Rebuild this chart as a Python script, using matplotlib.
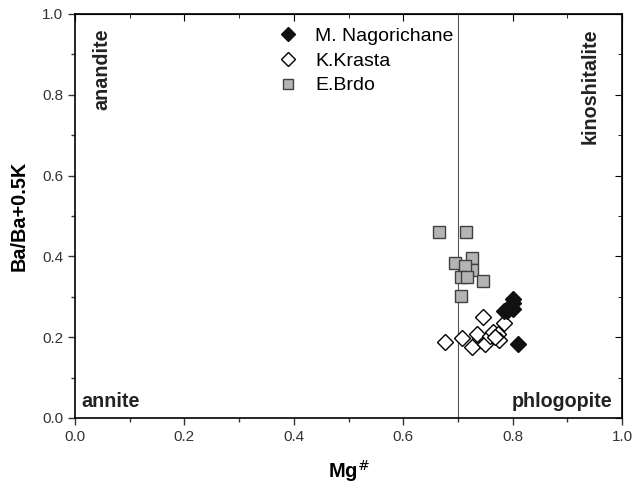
import numpy as np
import matplotlib.pyplot as plt

plt.rcParams['font.family'] = ['Liberation Sans', 'DejaVu Sans']

# M. Nagorichane
mn_x = [0.80, 0.80, 0.795, 0.79, 0.80, 0.785, 0.81]
mn_y = [0.295, 0.285, 0.275, 0.265, 0.27, 0.265, 0.182]

# K.Krasta
kk_x = [0.676, 0.707, 0.734, 0.725, 0.746, 0.749, 0.758, 0.764, 0.773, 0.776, 0.768, 0.785]
kk_y = [0.187, 0.197, 0.208, 0.175, 0.25, 0.183, 0.204, 0.212, 0.208, 0.192, 0.20, 0.235]

# E.Brdo
eb_x = [0.666, 0.715, 0.695, 0.726, 0.726, 0.713, 0.705, 0.717, 0.745, 0.705, 0.736]
eb_y = [0.46, 0.46, 0.384, 0.395, 0.367, 0.376, 0.349, 0.349, 0.339, 0.303, 0.189]

fig = plt.figure(figsize=(6.34, 4.84), dpi=100)
ax = fig.add_axes([0.1183, 0.1364, 0.8628, 0.8347])

ax.axvline(0.7, color='#555555', lw=0.8, zorder=1)

ax.plot(eb_x, eb_y, 's', ms=8, mfc='#b4b4b4', mec='#404040', mew=1.0, ls='none', label='E.Brdo', zorder=2)
ax.plot(kk_x, kk_y, 'D', ms=8, mfc='white', mec='black', mew=1.0, ls='none', label='K.Krasta', zorder=3)
ax.plot(mn_x, mn_y, 'D', ms=8, mfc='#111111', mec='#111111', mew=1.0, ls='none', label='M. Nagorichane', zorder=4)

h, l = ax.get_legend_handles_labels()
leg = ax.legend(h[::-1], l[::-1], loc='upper left', bbox_to_anchor=(0.337, 1.0), frameon=False,
                fontsize=14, handletextpad=0.67, labelspacing=0.36, handlelength=1.5,
                borderaxespad=0.3, markerscale=0.85)

ax.set_xlim(0, 1)
ax.set_ylim(0, 1)
ax.set_xticks(np.arange(0, 1.01, 0.2))
ax.set_yticks(np.arange(0, 1.01, 0.2))
ax.set_xticks(np.arange(0.1, 1.0, 0.2), minor=True)
ax.set_yticks(np.arange(0.1, 1.0, 0.2), minor=True)
ax.tick_params(which='both', direction='out', labelsize=11, colors='#333333', width=1)
ax.tick_params(which='major', length=5)
ax.tick_params(which='minor', length=3)
for s in ax.spines.values():
    s.set_linewidth(1.2)

sec = ax.secondary_xaxis('top')
sec.set_xticks(np.arange(0, 1.01, 0.2))
sec.set_xticks(np.arange(0.1, 1.0, 0.2), minor=True)
sec.tick_params(which='both', direction='in', labeltop=False)
sec.tick_params(which='major', length=5)
sec.tick_params(which='minor', length=3)
sec.set_xticklabels([])
secy = ax.secondary_yaxis('right')
secy.set_yticks(np.arange(0, 1.01, 0.2))
secy.set_yticks(np.arange(0.1, 1.0, 0.2), minor=True)
secy.tick_params(which='both', direction='in')
secy.tick_params(which='major', length=5)
secy.tick_params(which='minor', length=3)
secy.set_yticklabels([])

ax.set_xlabel('Mg$^{\\#}$', fontsize=14.5, fontweight='bold', labelpad=10)
ax.set_ylabel('Ba/Ba+0.5K', fontsize=14.3, fontweight='bold', labelpad=10)

tk = dict(fontsize=14.2, fontweight='bold', color='#222222')
ax.text(0.049, 0.965, 'anandite', rotation=90, ha='center', va='top', **tk)
ax.text(0.941, 0.965, 'kinoshitalite', rotation=90, ha='center', va='top', **tk)
ax.text(0.011, 0.027, 'annite', ha='left', va='baseline', **tk)
ax.text(0.982, 0.027, 'phlogopite', ha='right', va='baseline', **tk)

fig.savefig('out.png', dpi=100)
